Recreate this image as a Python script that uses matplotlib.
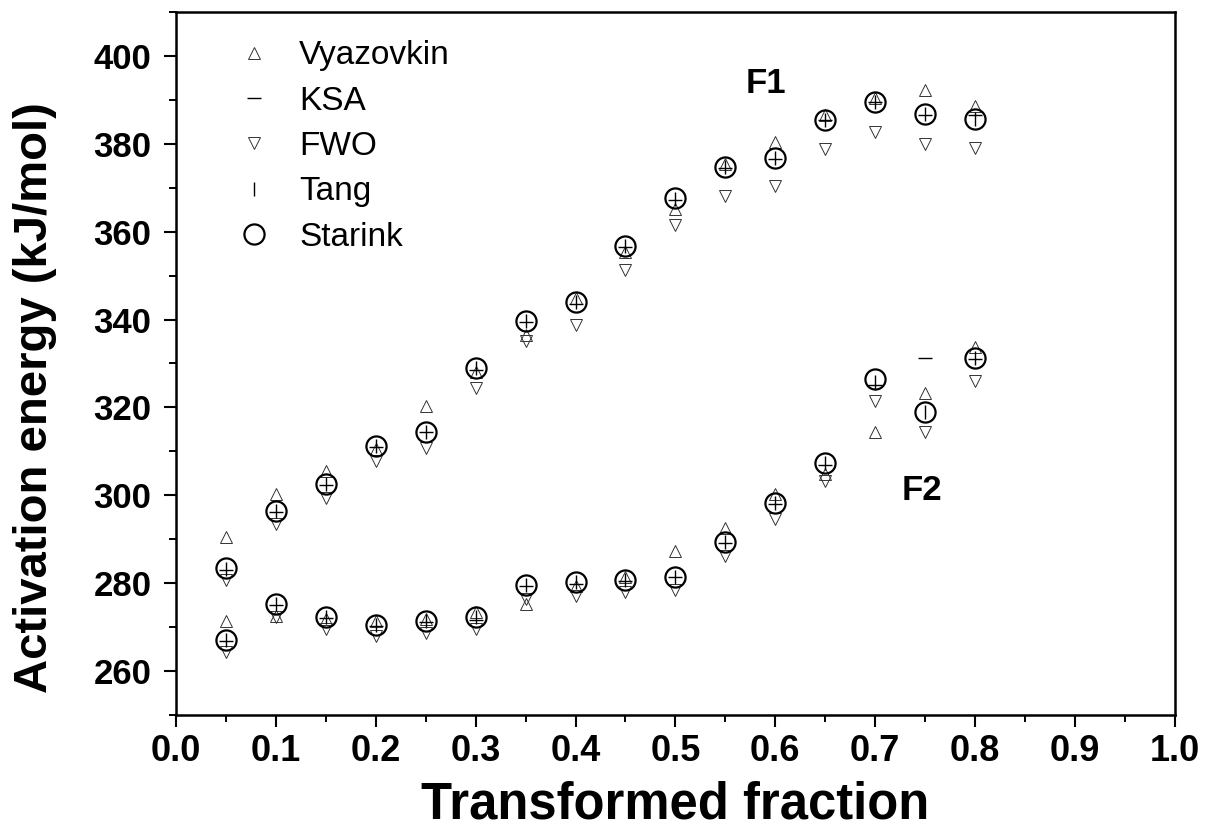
import numpy as np
import matplotlib
matplotlib.use("Agg")
import matplotlib.pyplot as plt
from matplotlib.ticker import MultipleLocator, FormatStrFormatter

# --- data: transformed fraction vs activation energy (kJ/mol) ---
alpha = [0.05, 0.1, 0.15, 0.2, 0.25, 0.3, 0.35, 0.4,
         0.45, 0.5, 0.55, 0.6, 0.65, 0.7, 0.75, 0.8]

# F1 (upper curve)
f1_vyazovkin = [290.4, 300.4, 305.6, 310.5, 320.4, 328.0, 336.5, 345.0,
                355.4, 365.2, 375.4, 380.5, 386.5, 390.4, 392.3, 388.7]
f1_ksa = [283.0, 296.2, 302.4, 311.0, 314.3, 328.6, 339.5, 343.6,
          356.5, 367.3, 374.4, 376.5, 385.3, 389.5, 386.6, 386.6]
f1_fwo = [280.7, 293.4, 299.4, 307.7, 310.8, 324.4, 335.0, 338.8,
          351.3, 361.5, 368.2, 370.3, 378.8, 382.6, 380.0, 379.0]
f1_tang = [283.3, 296.4, 302.6, 311.2, 314.5, 328.9, 339.7, 343.9,
           356.8, 367.5, 374.6, 376.7, 385.5, 389.6, 386.8, 385.6]
f1_starink = [283.4, 296.4, 302.6, 311.3, 314.5, 328.9, 339.7, 343.9,
              356.8, 367.6, 374.6, 376.7, 385.5, 389.6, 386.8, 385.6]

# F2 (lower curve)
f2_vyazovkin = [271.4, 272.6, 271.8, 271.4, 271.8, 273.4, 275.2, 279.4,
                281.3, 287.4, 292.5, 300.3, 304.8, 314.3, 323.3, 333.7]
f2_ksa = [266.8, 275.1, 272.0, 270.2, 271.2, 271.5, 279.4, 279.8,
          280.6, 281.3, 289.1, 298.0, 306.9, 325.0, 331.2, 331.0]
f2_fwo = [264.4, 272.4, 269.6, 267.9, 268.6, 269.6, 276.5, 277.1,
          277.9, 278.5, 286.1, 294.6, 303.3, 321.5, 314.3, 326.1]
f2_tang = [267.0, 275.3, 272.2, 270.5, 271.4, 272.2, 279.6, 280.2,
           280.8, 281.5, 289.3, 298.2, 307.3, 325.8, 319.0, 331.2]
f2_starink = [267.1, 275.3, 272.2, 270.5, 271.4, 272.2, 279.6, 280.2,
              280.8, 281.5, 289.3, 298.2, 307.3, 326.5, 319.0, 331.2]

plt.rcParams['font.family'] = ['Liberation Sans', 'DejaVu Sans']

fig = plt.figure(figsize=(12.05, 8.3), dpi=100)
ax = fig.add_axes([0.146, 0.1386, 0.829, 0.847])

tri_kw = dict(linestyle='none', markerfacecolor='none', markeredgecolor='#333333',
              markeredgewidth=0.7, markersize=8.5)
line_kw = dict(linestyle='none', color='black', markeredgewidth=1.0, markersize=10)
circ_kw = dict(linestyle='none', marker='o', markerfacecolor='none',
               markeredgecolor='black', markeredgewidth=1.6, markersize=14.5)

for vy, ksa, fwo, tang, st, lab in [
        (f1_vyazovkin, f1_ksa, f1_fwo, f1_tang, f1_starink, True),
        (f2_vyazovkin, f2_ksa, f2_fwo, f2_tang, f2_starink, False)]:
    ax.plot(alpha, vy, marker='^', label='Vyazovkin' if lab else None, **tri_kw)
    ax.plot(alpha, ksa, marker='_', label='KSA' if lab else None, **line_kw)
    ax.plot(alpha, fwo, marker='v', label='FWO' if lab else None, **tri_kw)
    ax.plot(alpha, tang, marker='|', label='Tang' if lab else None, **line_kw)
    ax.plot(alpha, st, label='Starink' if lab else None, **circ_kw)

ax.set_xlim(0.0, 1.0)
ax.set_ylim(250, 410)
ax.xaxis.set_major_locator(MultipleLocator(0.1))
ax.xaxis.set_minor_locator(MultipleLocator(0.05))
ax.yaxis.set_minor_locator(MultipleLocator(10))
ax.set_yticks(np.arange(260, 401, 20))
ax.xaxis.set_major_formatter(FormatStrFormatter('%.1f'))

for s in ax.spines.values():
    s.set_linewidth(1.8)
ax.tick_params(which='major', direction='out', length=8.6, width=1.5,
               top=False, right=False)
ax.tick_params(which='minor', direction='out', length=4.7, width=1.4,
               top=False, right=False)
ax.tick_params(axis='y', which='major', pad=9)
ax.tick_params(axis='x', which='major', pad=5)
for t in ax.get_xticklabels():
    t.set_fontweight('bold')
    t.set_fontsize(26)
for t in ax.get_yticklabels():
    t.set_fontweight('bold')
    t.set_fontsize(25)

ax.set_xlabel('Transformed fraction', fontsize=36.5, fontweight='bold')
ax.xaxis.set_label_coords(0.5, -0.147)
ax.xaxis.label.set_va('baseline')
ax.set_ylabel('Activation energy (kJ/mol)', fontsize=34, fontweight='bold')
ax.yaxis.set_label_coords(-0.141, 0.451)
ax.yaxis.label.set_va('center')

ax.text(0.5906, 393.8, 'F1', fontsize=25, fontweight='bold',
        ha='center', va='center')
ax.text(0.747, 301.0, 'F2', fontsize=25, fontweight='bold',
        ha='center', va='center')

leg = ax.legend(loc='upper left', frameon=False, fontsize=24,
                bbox_to_anchor=(0.035, 0.993), handletextpad=0.75,
                labelspacing=0.43, borderaxespad=0.3, handlelength=1.2)

fig.savefig('out.png', dpi=100)
